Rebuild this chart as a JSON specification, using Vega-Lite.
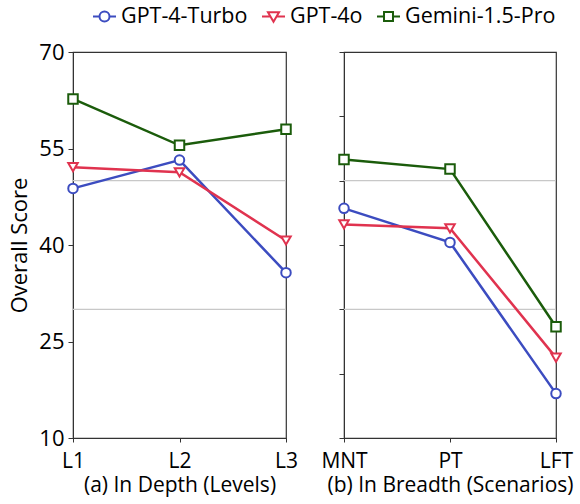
{
  "$schema": "https://vega.github.io/schema/vega-lite/v6.json",
  "padding": {"left": 8, "top": 4, "right": 5, "bottom": 5},
  "bounds": "flush",
  "spacing": 58,
  "datasets": {
    "depth": [
      {"cat": "L1", "model": "GPT-4-Turbo", "score": 48.8},
      {"cat": "L2", "model": "GPT-4-Turbo", "score": 53.2},
      {"cat": "L3", "model": "GPT-4-Turbo", "score": 35.7},
      {"cat": "L1", "model": "GPT-4o", "score": 52.1},
      {"cat": "L2", "model": "GPT-4o", "score": 51.3},
      {"cat": "L3", "model": "GPT-4o", "score": 40.7},
      {"cat": "L1", "model": "Gemini-1.5-Pro", "score": 62.7},
      {"cat": "L2", "model": "Gemini-1.5-Pro", "score": 55.5},
      {"cat": "L3", "model": "Gemini-1.5-Pro", "score": 58.0}
    ],
    "breadth": [
      {"cat": "MNT", "model": "GPT-4-Turbo", "score": 45.7},
      {"cat": "PT", "model": "GPT-4-Turbo", "score": 40.4},
      {"cat": "LFT", "model": "GPT-4-Turbo", "score": 16.9},
      {"cat": "MNT", "model": "GPT-4o", "score": 43.2},
      {"cat": "PT", "model": "GPT-4o", "score": 42.6},
      {"cat": "LFT", "model": "GPT-4o", "score": 22.5},
      {"cat": "MNT", "model": "Gemini-1.5-Pro", "score": 53.3},
      {"cat": "PT", "model": "Gemini-1.5-Pro", "score": 51.8},
      {"cat": "LFT", "model": "Gemini-1.5-Pro", "score": 27.3}
    ],
    "grid": [{"g": 30}, {"g": 50}]
  },
  "hconcat": [
    {
      "width": 213,
      "height": 386,
      "data": {"name": "depth"},
      "encoding": {
        "x": {"field": "cat", "type": "ordinal", "sort": ["L1", "L2", "L3"], "scale": {"type": "point", "padding": 0},
              "axis": {"title": "(a) In Depth (Levels)", "labelAngle": 0}},
        "y": {"field": "score", "type": "quantitative", "scale": {"domain": [10, 70], "nice": false, "zero": false},
              "axis": {"values": [10, 25, 40, 55, 70], "title": "Overall Score", "titlePadding": 7}},
        "stroke": {"field": "model", "type": "nominal",
                   "scale": {"domain": ["GPT-4-Turbo", "GPT-4o", "Gemini-1.5-Pro"], "range": ["#3c4cc0", "#e0334f", "#1b5c0b"]},
                   "legend": {"title": null, "orient": "none", "legendX": 19, "legendY": -48, "direction": "horizontal", "labelFontSize": 21.5, "symbolSize": 529, "symbolStrokeWidth": 2, "symbolFillColor": "white", "symbolOpacity": 1, "labelOffset": 4, "columnPadding": 10}}
      },
      "layer": [
        {
          "data": {"name": "grid"},
          "mark": {"type": "rule", "color": "#c8c8c8", "strokeWidth": 1.2},
          "encoding": {"x": null, "stroke": null, "y": {"field": "g", "type": "quantitative"}}
        },
        {
          "mark": {"type": "line", "strokeWidth": 2.5}
        },
        {
          "transform": [{"filter": "datum.model === 'GPT-4-Turbo'"}],
          "mark": {"type": "point", "shape": "circle", "filled": false, "fill": "white", "size": 90, "strokeWidth": 2, "opacity": 1}
        },
        {
          "transform": [{"filter": "datum.model === 'GPT-4o'"}],
          "mark": {"type": "point", "shape": "triangle-down", "filled": false, "fill": "white", "size": 90, "strokeWidth": 2, "opacity": 1}
        },
        {
          "transform": [{"filter": "datum.model === 'Gemini-1.5-Pro'"}],
          "mark": {"type": "point", "shape": "square", "filled": false, "fill": "white", "size": 90, "strokeWidth": 2, "opacity": 1}
        },
        {
          "mark": {"type": "point", "filled": false, "opacity": 0, "size": 10},
          "encoding": {
            "shape": {"field": "model", "type": "nominal",
                      "scale": {"domain": ["GPT-4-Turbo", "GPT-4o", "Gemini-1.5-Pro"],
                                "range": ["M-1,0H-0.435M0.435,0H1M0.435,0A0.435,0.435,0,1,1,-0.435,0A0.435,0.435,0,1,1,0.435,0Z",
                                          "M-1,0H-0.26M0.26,0H1M-0.48,-0.38L0.48,-0.38L0,0.45Z",
                                          "M-1,0H-0.39M0.39,0H1M-0.39,-0.39H0.39V0.39H-0.39Z"]},
                      "legend": {"title": null, "orient": "none", "legendX": 19, "legendY": -48, "direction": "horizontal", "labelFontSize": 21.5, "symbolSize": 529, "symbolStrokeWidth": 2, "symbolFillColor": "white", "symbolOpacity": 1, "labelOffset": 4, "columnPadding": 10}}
          }
        }
      ]
    },
    {
      "width": 212,
      "height": 386,
      "data": {"name": "breadth"},
      "encoding": {
        "x": {"field": "cat", "type": "ordinal", "sort": ["MNT", "PT", "LFT"], "scale": {"type": "point", "padding": 0},
              "axis": {"title": "(b) In Breadth (Scenarios)", "labelAngle": 0}},
        "y": {"field": "score", "type": "quantitative", "scale": {"domain": [10, 70], "nice": false, "zero": false},
              "axis": {"values": [10, 20, 30, 40, 50, 60, 70], "title": null, "labels": false}},
        "stroke": {"field": "model", "type": "nominal",
                   "scale": {"domain": ["GPT-4-Turbo", "GPT-4o", "Gemini-1.5-Pro"], "range": ["#3c4cc0", "#e0334f", "#1b5c0b"]},
                   "legend": {"title": null, "orient": "none", "legendX": 19, "legendY": -48, "direction": "horizontal", "labelFontSize": 21.5, "symbolSize": 529, "symbolStrokeWidth": 2, "symbolFillColor": "white", "symbolOpacity": 1, "labelOffset": 4, "columnPadding": 10}}
      },
      "layer": [
        {
          "data": {"name": "grid"},
          "mark": {"type": "rule", "color": "#c8c8c8", "strokeWidth": 1.2},
          "encoding": {"x": null, "stroke": null, "y": {"field": "g", "type": "quantitative"}}
        },
        {
          "mark": {"type": "line", "strokeWidth": 2.5}
        },
        {
          "transform": [{"filter": "datum.model === 'GPT-4-Turbo'"}],
          "mark": {"type": "point", "shape": "circle", "filled": false, "fill": "white", "size": 90, "strokeWidth": 2, "opacity": 1}
        },
        {
          "transform": [{"filter": "datum.model === 'GPT-4o'"}],
          "mark": {"type": "point", "shape": "triangle-down", "filled": false, "fill": "white", "size": 90, "strokeWidth": 2, "opacity": 1}
        },
        {
          "transform": [{"filter": "datum.model === 'Gemini-1.5-Pro'"}],
          "mark": {"type": "point", "shape": "square", "filled": false, "fill": "white", "size": 90, "strokeWidth": 2, "opacity": 1}
        },
        {
          "mark": {"type": "point", "filled": false, "opacity": 0, "size": 10},
          "encoding": {
            "shape": {"field": "model", "type": "nominal",
                      "scale": {"domain": ["GPT-4-Turbo", "GPT-4o", "Gemini-1.5-Pro"],
                                "range": ["M-1,0H-0.435M0.435,0H1M0.435,0A0.435,0.435,0,1,1,-0.435,0A0.435,0.435,0,1,1,0.435,0Z",
                                          "M-1,0H-0.26M0.26,0H1M-0.48,-0.38L0.48,-0.38L0,0.45Z",
                                          "M-1,0H-0.39M0.39,0H1M-0.39,-0.39H0.39V0.39H-0.39Z"]},
                      "legend": {"title": null, "orient": "none", "legendX": 19, "legendY": -48, "direction": "horizontal", "labelFontSize": 21.5, "symbolSize": 529, "symbolStrokeWidth": 2, "symbolFillColor": "white", "symbolOpacity": 1, "labelOffset": 4, "columnPadding": 10}}
          }
        }
      ]
    }
  ],
  "config": {
    "font": "Open Sans",
    "view": {"stroke": "#333333", "strokeWidth": 1.2},
    "axis": {"grid": false, "domainColor": "#333333", "tickColor": "#333333", "tickSize": 5, "labelFontSize": 22, "labelColor": "black", "titleFontSize": 22, "titleFontWeight": "normal", "titleColor": "black", "labelPadding": 4, "titlePadding": 2},
    "axisX": {"labelFontSize": 21, "titleFontSize": 21, "tickSize": 4, "labelPadding": 8, "titlePadding": 3},
    "legend": {"labelColor": "black"}
  }
}
